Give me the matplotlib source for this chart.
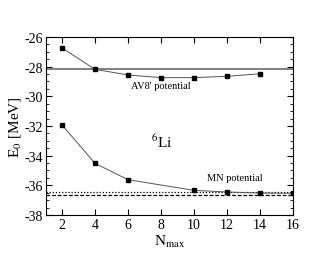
import numpy as np
import matplotlib.pyplot as plt
from matplotlib.ticker import MultipleLocator

plt.rcParams['font.family'] = ['Liberation Serif', 'DejaVu Serif']
plt.rcParams['mathtext.fontset'] = 'stix'

# AV8' potential
nmax_av8 = [2, 4, 6, 8, 10, 12, 14]
e_av8 = [-26.74, -28.18, -28.56, -28.74, -28.74, -28.65, -28.48]
e_av8_exact = -28.19

# MN potential
nmax_mn = [2, 4, 6, 10, 12, 14, 16]
e_mn = [-31.93, -34.52, -35.62, -36.34, -36.45, -36.52, -36.54]
e_mn_dotted = -36.48
e_mn_dashed = -36.62

fig = plt.figure(figsize=(3.3, 2.55), dpi=100)
ax = fig.add_axes([0.138, 0.153, 0.75, 0.698])

ax.axhline(e_av8_exact, color='#808080', lw=1.4)
ax.axhline(e_mn_dotted, color='black', lw=0.9, ls=(0, (1, 1.5)))
ax.axhline(e_mn_dashed, color='black', lw=0.9, ls=(0, (3, 1.5)))

ax.plot(nmax_av8, e_av8, color='#555555', lw=0.7, marker='s', ms=3.2,
        mfc='black', mec='black')
ax.plot(nmax_mn, e_mn, color='#555555', lw=0.7, marker='s', ms=3.2,
        mfc='black', mec='black')

ax.text(6.2, -29.3, "AV8' potential", fontsize=7.5, va='center')
ax.text(10.8, -35.45, "MN potential", fontsize=7.5, va='center')
ax.text(7.4, -33.0, r"$^{6}$Li", fontsize=11, va='center')

ax.set_xlim(1, 16)
ax.set_ylim(-38, -26)
ax.xaxis.set_major_locator(MultipleLocator(2))
ax.yaxis.set_major_locator(MultipleLocator(2))
ax.yaxis.set_minor_locator(MultipleLocator(0.5))
ax.tick_params(which='both', direction='in', top=True, right=True,
               labelsize=10, pad=2)
ax.tick_params(which='major', length=4)
ax.tick_params(which='minor', length=2)
ax.set_yticks(np.arange(-38, -25, 2))
ax.set_yticklabels([str(v) for v in range(-38, -25, 2)])

ax.set_xlabel(r"N$_{\mathrm{max}}$", fontsize=11, labelpad=1.5)
ax.set_ylabel(r"E$_0$ [MeV]", fontsize=11, labelpad=1)

fig.savefig('out.png', dpi=100)
